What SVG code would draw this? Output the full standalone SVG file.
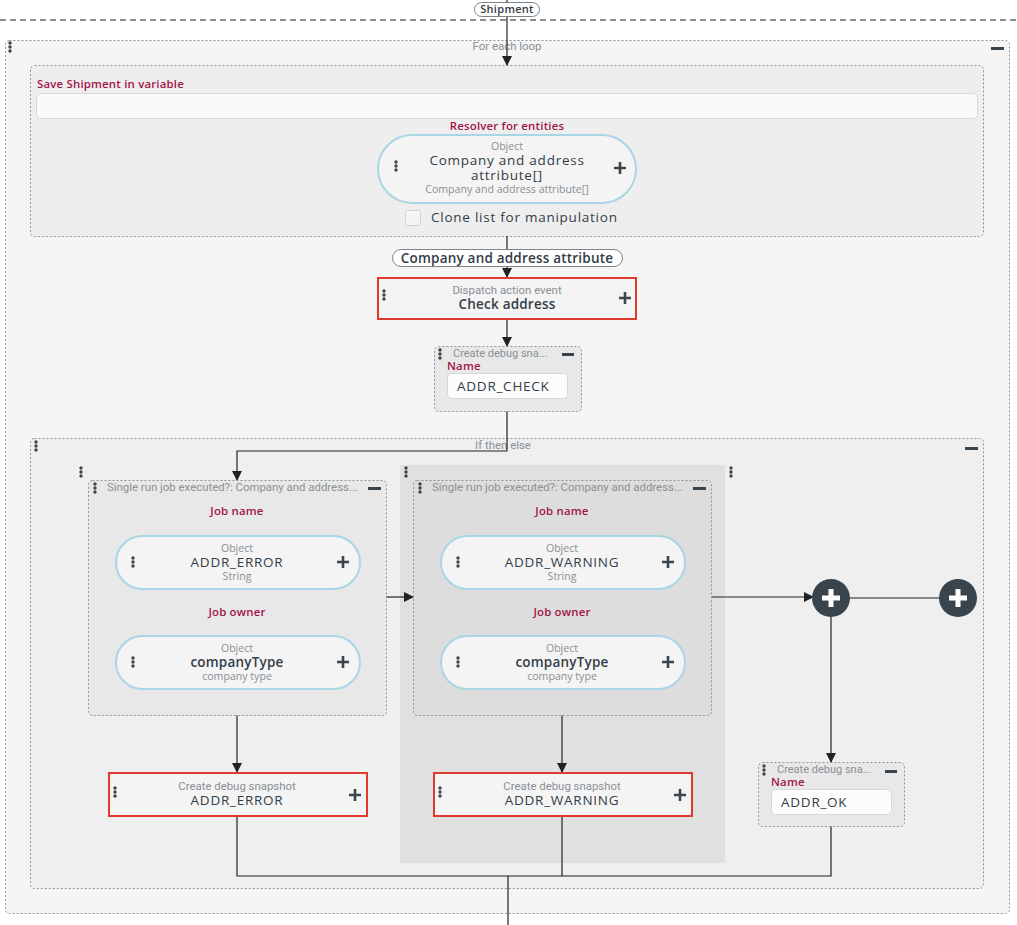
<svg xmlns="http://www.w3.org/2000/svg" width="1017" height="925" viewBox="0 0 1017 925">
<defs>
<style>
.dk{fill:#333d47;font-family:"Open Sans","Liberation Sans",sans-serif}
.t13{font-size:13.5px;font-weight:600;letter-spacing:0.2px}
.m13{font-size:13.5px;font-weight:500;letter-spacing:0.75px}
.gy{fill:#8a9096;font-family:"Roboto","Liberation Sans",sans-serif;font-size:11.4px}
.gs{fill:#8a9096;font-family:"Open Sans","Liberation Sans",sans-serif;font-size:10.6px}
.cr{fill:#a3144a;font-family:"Open Sans","Liberation Sans",sans-serif;font-size:11.4px;font-weight:600;letter-spacing:0.2px}
.mid{text-anchor:middle}
.cont{stroke:#8e9499;stroke-width:1;stroke-dasharray:2 2}
.pill{fill:#f4f4f4;stroke:#a9d6e5;stroke-width:2}
.red{fill:#f4f4f4;stroke:#e0392d;stroke-width:2}
.inp{fill:#fafafa;stroke:#d8d8d8;stroke-width:1}
.ln{fill:none;stroke:#222;stroke-width:1.2}
.plus{stroke:#3a444d;stroke-width:2.6;fill:none}
.dot{fill:#3a444d}
</style>
<marker id="ah" markerWidth="10" markerHeight="10" refX="9" refY="5" orient="auto" markerUnits="userSpaceOnUse">
<path d="M0,0 L10,5 L0,10 z" fill="#222"/>
</marker>
<g id="dots"><circle cx="0" cy="0" r="1.7"/><circle cx="0" cy="4" r="1.7"/><circle cx="0" cy="8" r="1.7"/></g>
<path id="pl" d="M-6,0 H6 M0,-6 V6"/>
</defs>

<rect width="1017" height="925" fill="#ffffff"/>

<g id="foreach">
<rect x="5.5" y="40.5" width="1004" height="873" rx="4" fill="#f5f5f5" class="cont"/>
<text x="507" y="50" class="gy mid">For each loop</text>
<use href="#dots" x="10" y="43" class="dot"/>
<rect x="991" y="47" width="13" height="3" fill="#3a444d"/>
</g>

<g id="savevar">
<rect x="30.5" y="65.5" width="953" height="171" rx="4" fill="#eeeeee" class="cont"/>
<text x="37" y="88" class="cr">Save Shipment in variable</text>
<rect x="36.5" y="93.5" width="941" height="25" rx="4" class="inp"/>
<text x="507" y="130" class="cr mid">Resolver for entities</text>
</g>

<g id="resolver">
<rect x="378" y="135" width="258" height="68" rx="34" class="pill"/>
<text x="507" y="150" class="gs mid">Object</text>
<text x="507" y="165" class="dk m13 mid">Company and address</text>
<text x="507" y="180" class="dk m13 mid">attribute[]</text>
<text x="507" y="193" class="gs mid">Company and address attribute[]</text>
<use href="#dots" x="396" y="162" class="dot"/>
<use href="#pl" x="620" y="168" class="plus"/>
</g>

<g id="clone">
<rect x="405.5" y="210.5" width="15" height="15" rx="2" fill="#f4f4f4" stroke="#d3d3d3"/>
<text x="431" y="222" class="dk m13">Clone list for manipulation</text>
</g>

<line x1="0" y1="20" x2="1017" y2="20" stroke="#8a8f94" stroke-width="2" stroke-dasharray="6 4"/>

<g id="ifelse">
<rect x="30.5" y="438.5" width="953" height="450" rx="4" fill="#efefef" class="cont"/>
<text x="503" y="449" class="gy mid">If then else</text>
<use href="#dots" x="36" y="442" class="dot"/>
<rect x="965" y="447" width="13" height="3" fill="#3a444d"/>
<rect x="400" y="465" width="325" height="398" fill="#e0e0e0"/>
<use href="#dots" x="81" y="468" class="dot"/>
<use href="#dots" x="406" y="468" class="dot"/>
<use href="#dots" x="731" y="468" class="dot"/>
</g>

<g id="connectors">
<line x1="507" y1="0" x2="507" y2="3" class="ln"/>
<line x1="507" y1="16" x2="507" y2="65" class="ln" marker-end="url(#ah)"/>
<line x1="507" y1="236" x2="507" y2="250" class="ln"/>
<line x1="507" y1="266" x2="507" y2="277" class="ln" marker-end="url(#ah)"/>
<line x1="507" y1="320" x2="507" y2="346" class="ln" marker-end="url(#ah)"/>
<path d="M507,411 V451 H237 V480" class="ln" marker-end="url(#ah)"/>
<line x1="386" y1="597" x2="413" y2="597" class="ln" marker-end="url(#ah)"/>
<line x1="711" y1="597" x2="813" y2="597" class="ln" marker-end="url(#ah)"/>
<line x1="849" y1="598" x2="940" y2="598" class="ln"/>
<line x1="831" y1="616" x2="831" y2="762" class="ln" marker-end="url(#ah)"/>
<line x1="237" y1="715" x2="237" y2="772" class="ln" marker-end="url(#ah)"/>
<line x1="562" y1="715" x2="562" y2="772" class="ln" marker-end="url(#ah)"/>
<path d="M237,817 V876 H831 V826" class="ln"/>
<line x1="562" y1="817" x2="562" y2="876" class="ln"/>
<line x1="508" y1="876" x2="508" y2="925" class="ln"/>
</g>

<g id="shipment">
<rect x="474.5" y="2.5" width="65" height="14" rx="7" fill="#fff" stroke="#7c848b"/>
<text x="507" y="13" class="dk mid" style="font-size:11px;font-weight:600;letter-spacing:0.3px">Shipment</text>
</g>

<g id="caa">
<rect x="392.5" y="249.5" width="230" height="17" rx="8.5" fill="#fff" stroke="#7c848b"/>
<text x="507" y="262.5" class="dk t13 mid">Company and address attribute</text>
</g>

<g id="checkaddr">
<rect x="378" y="278" width="258" height="41" class="red"/>
<text x="507" y="294" class="gy mid">Dispatch action event</text>
<text x="507" y="309" class="dk t13 mid">Check address</text>
<use href="#dots" x="384" y="291" class="dot"/>
<use href="#pl" x="625" y="298" class="plus"/>
</g>

<g id="snapcheck">
<rect x="434.5" y="346.5" width="147" height="65" rx="4" fill="#e8e8e8" class="cont"/>
<text x="453" y="357" class="gy" style="font-size:11px">Create debug sna...</text>
<use href="#dots" x="440" y="350" class="dot"/>
<rect x="562" y="353" width="12" height="3" fill="#3a444d"/>
<text x="447" y="369.5" class="cr">Name</text>
<rect x="447.5" y="373.5" width="120" height="25" rx="4" fill="#fcfcfc" stroke="#d8d8d8"/>
<text x="457" y="391" class="dk m13">ADDR_CHECK</text>
</g>

<g id="branch1">
<rect x="88.5" y="480.5" width="298" height="235" rx="4" fill="#e8e8e8" class="cont"/>
<text x="107" y="491" class="gy">Single run job executed?: Company and address...</text>
<use href="#dots" x="95" y="484" class="dot"/>
<rect x="368" y="487" width="13" height="3" fill="#3a444d"/>
<text x="237" y="515" class="cr mid">Job name</text>
<text x="237" y="616" class="cr mid">Job owner</text>
</g>
<g id="b1name">
<rect x="116" y="536" width="244" height="53" rx="26.5" class="pill"/>
<text x="237" y="552" class="gs mid">Object</text>
<text x="237" y="567" class="dk m13 mid">ADDR_ERROR</text>
<text x="237" y="580" class="gs mid">String</text>
<use href="#dots" x="133" y="558" class="dot"/>
<use href="#pl" x="343" y="562" class="plus"/>
</g>
<g id="b1owner">
<rect x="116" y="636" width="244" height="53" rx="26.5" class="pill"/>
<text x="237" y="652" class="gs mid">Object</text>
<text x="237" y="667" class="dk t13 mid">companyType</text>
<text x="237" y="680" class="gs mid">company type</text>
<use href="#dots" x="133" y="658" class="dot"/>
<use href="#pl" x="343" y="662" class="plus"/>
</g>

<g id="branch2">
<rect x="413.5" y="480.5" width="298" height="235" rx="4" fill="#dddddd" class="cont"/>
<text x="432" y="491" class="gy">Single run job executed?: Company and address...</text>
<use href="#dots" x="420" y="484" class="dot"/>
<rect x="693" y="487" width="13" height="3" fill="#3a444d"/>
<text x="562" y="515" class="cr mid">Job name</text>
<text x="562" y="616" class="cr mid">Job owner</text>
</g>
<g id="b2name">
<rect x="441" y="536" width="244" height="53" rx="26.5" class="pill"/>
<text x="562" y="552" class="gs mid">Object</text>
<text x="562" y="567" class="dk m13 mid">ADDR_WARNING</text>
<text x="562" y="580" class="gs mid">String</text>
<use href="#dots" x="458" y="558" class="dot"/>
<use href="#pl" x="668" y="562" class="plus"/>
</g>
<g id="b2owner">
<rect x="441" y="636" width="244" height="53" rx="26.5" class="pill"/>
<text x="562" y="652" class="gs mid">Object</text>
<text x="562" y="667" class="dk t13 mid">companyType</text>
<text x="562" y="680" class="gs mid">company type</text>
<use href="#dots" x="458" y="658" class="dot"/>
<use href="#pl" x="668" y="662" class="plus"/>
</g>

<g id="join1">
<circle cx="831" cy="598" r="19" fill="#3a444d"/>
<path d="M822,598 H840 M831,589 V607" stroke="#fff" stroke-width="5"/>
</g>
<g id="join2">
<circle cx="958" cy="598" r="19" fill="#3a444d"/>
<path d="M949,598 H967 M958,589 V607" stroke="#fff" stroke-width="5"/>
</g>

<g id="snaperror">
<rect x="109" y="773" width="258" height="43" class="red"/>
<text x="237" y="790" class="gy mid">Create debug snapshot</text>
<text x="237" y="805" class="dk m13 mid">ADDR_ERROR</text>
<use href="#dots" x="115" y="788" class="dot"/>
<use href="#pl" x="355" y="795" class="plus"/>
</g>
<g id="snapwarning">
<rect x="434" y="773" width="258" height="43" class="red"/>
<text x="562" y="790" class="gy mid">Create debug snapshot</text>
<text x="562" y="805" class="dk m13 mid">ADDR_WARNING</text>
<use href="#dots" x="440" y="788" class="dot"/>
<use href="#pl" x="680" y="795" class="plus"/>
</g>

<g id="snapok">
<rect x="758.5" y="762.5" width="146" height="64" rx="4" fill="#e8e8e8" class="cont"/>
<text x="777" y="773" class="gy" style="font-size:11px">Create debug sna...</text>
<use href="#dots" x="764" y="766" class="dot"/>
<rect x="885" y="770" width="12" height="3" fill="#3a444d"/>
<text x="771" y="785.5" class="cr">Name</text>
<rect x="771.5" y="789.5" width="120" height="25" rx="4" fill="#fcfcfc" stroke="#d8d8d8"/>
<text x="781" y="807" class="dk m13">ADDR_OK</text>
</g>
</svg>
